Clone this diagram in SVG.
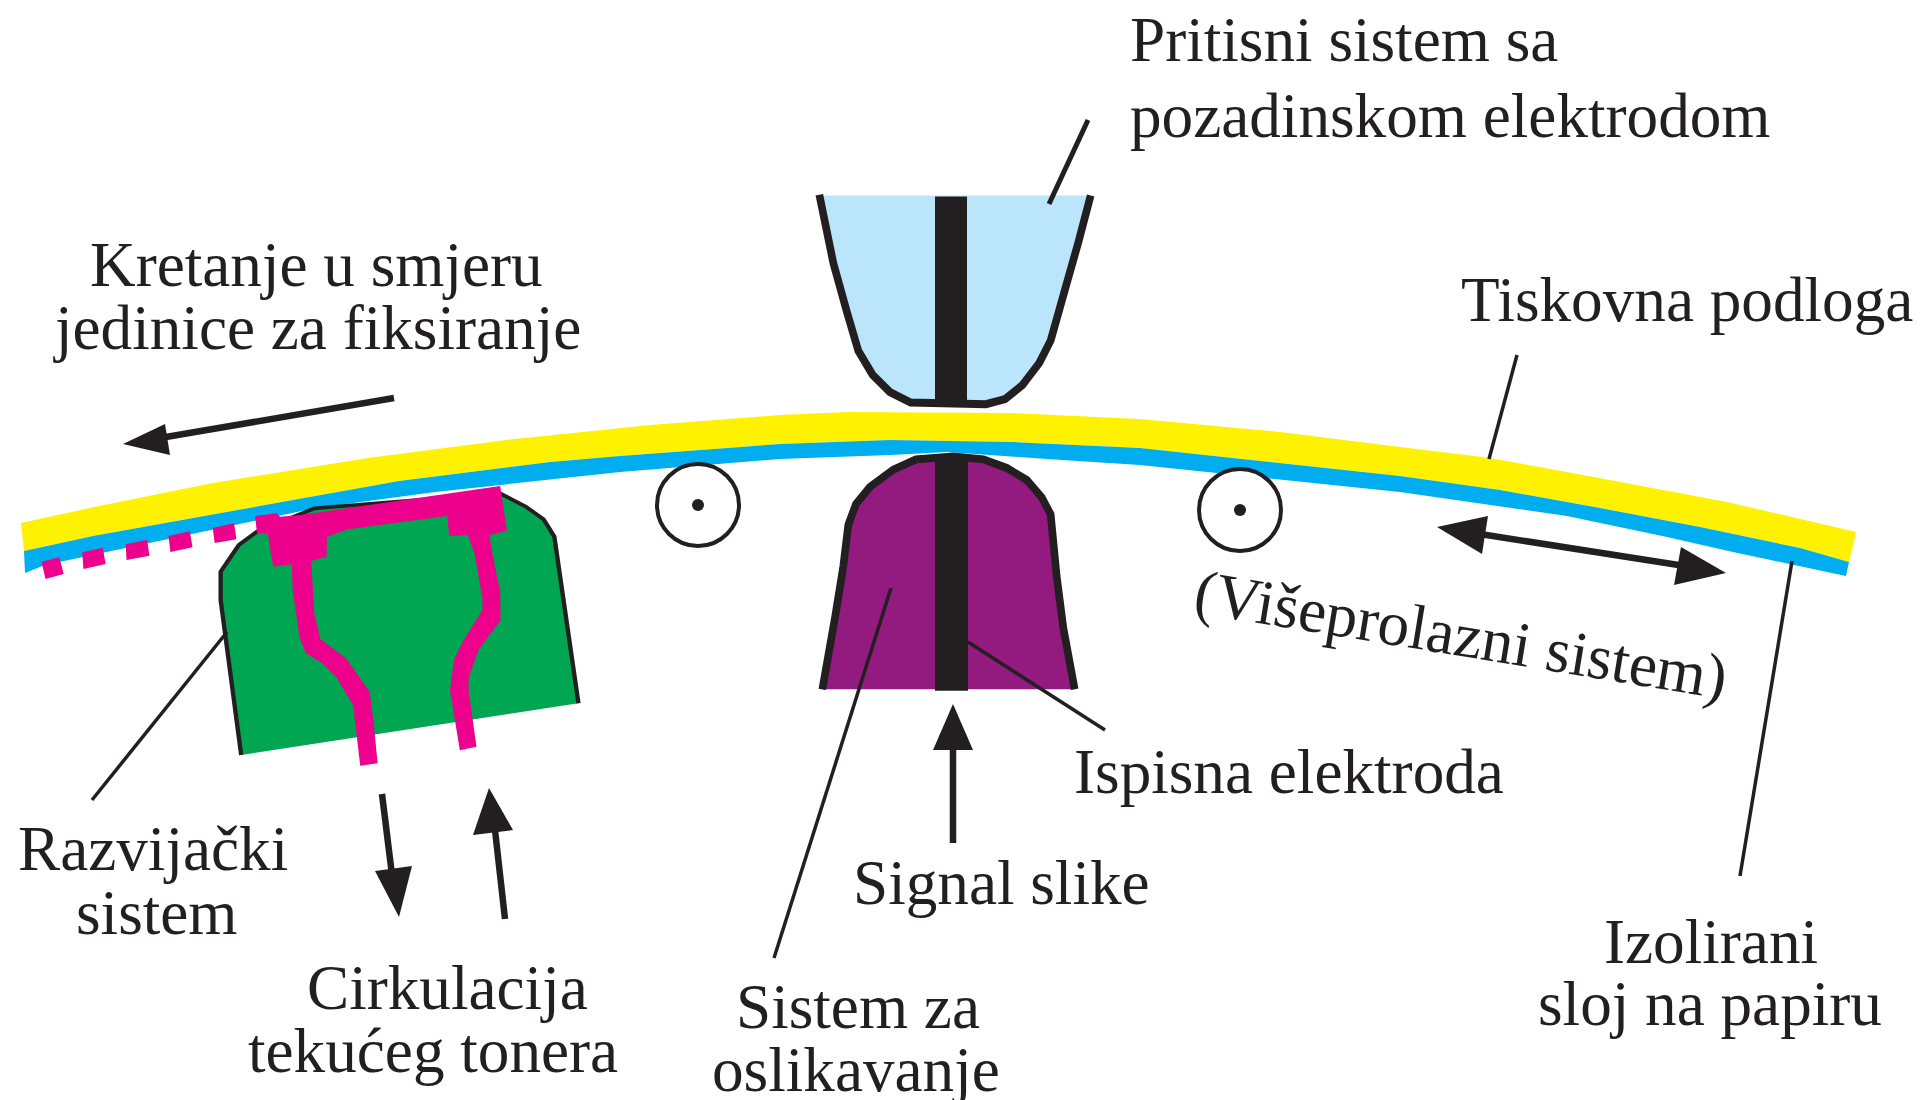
<svg xmlns="http://www.w3.org/2000/svg" width="1921" height="1100" viewBox="0 0 1921 1100">
<style>
text{font-family:"Liberation Serif","Times New Roman",serif;font-size:63.2px;fill:#231f20}
.ln{fill:none;stroke:#231f20;stroke-width:3.5}
.ar{fill:none;stroke:#231f20;stroke-width:6.5}
.hd{fill:#231f20}
.k{fill:#231f20}
</style>
<rect width="1921" height="1100" fill="#fff"/>
<g id="tiskovna-podloga-traka">
<path fill="#fff200" d="M21,523L99,506L213,483L368,458L506,440L650,425L780,415L847,412L1013,413L1140,419L1280,432L1400,447L1490,458L1583,475L1727,502L1856,532L1849,562L1800,548L1700,527L1600,508L1500,490L1400,476L1140,448L1013,442L890,440L780,444L620,456L550,462L399,481L93,536L24,551Z"/>
<path fill="#00aeef" d="M24,551L93,536L399,481L550,462L620,456L780,444L890,440L1013,442L1140,448L1400,476L1500,490L1600,508L1700,527L1800,548L1849,562L1846,576L1733,552L1667,537L1567,516L1400,492L1140,465L1047,459L947,452L890,455L780,459L620,472L435,492L316,508L45,565L25,573Z"/>
</g>
<g id="razvijacki-sistem" transform="translate(0,440) scale(.3954,.3333)">
<path fill="#00a651" d="M610,945L558,480L558,395L604,315L650,275L795,205L1265,160L1330,200L1375,238L1402,290L1463,790Z"/>
<path fill="none" stroke="#231f20" stroke-width="11" d="M610,945L558,480L558,395L604,315L650,275L795,205L1265,160L1330,200L1375,238L1402,290L1463,790"/>
<path fill="#ec008c" d="M645,228L700,220L708,230L760,225L1265,138L1282,272L1238,285L1245,340L1265,455L1266,540L1210,630L1185,715L1185,750L1205,920L1163,931L1138,750L1148,660L1170,605L1220,510L1220,475L1200,340L1183,285L1136,288L1131,228L880,268L827,290L826,350L787,363L795,520L810,597L875,655L935,755L945,850L955,970L911,977L893,795L850,710L815,670L773,638L757,590L740,450L738,373L691,380L677,280L650,280Z"/>
<g fill="#ec008c">
<path d="M105,365L150,352L161,402L115,417Z"/>
<path d="M208,337L260,323L267,372L211,387Z"/>
<path d="M318,313L372,299L378,347L320,360Z"/>
<path d="M426,288L480,274L487,322L431,336Z"/>
<path d="M538,264L592,250L598,298L543,309Z"/>
</g>
</g>
<g id="pritisni-sistem" transform="translate(780,170) scale(.33333,.3444)">
<path fill="#bbe5fa" stroke="none" d="M120,74L930,74L895,210L860,330L812,495L778,560L727,625L675,665L618,680L392,675L330,645L278,595L235,525L200,410L160,270Z"/>
<path fill="none" stroke="#231f20" stroke-width="23" d="M118,72L160,270L200,410L235,525L278,595L330,645L392,675L618,680L675,665L727,625L778,560L812,495L860,330L895,210L932,74"/>
<rect class="k" x="465" y="77" width="96" height="605"/>
</g>
<g id="sistem-za-oslikavanje" transform="translate(780,170) scale(.33333,.3444)">
<path fill="#931b80" d="M127,1508L165,1300L190,1150L205,1030L228,970L270,920L340,870L408,840L520,832L610,840L680,865L740,900L785,950L812,1000L830,1180L850,1330L884,1508Z"/>
<path fill="none" stroke="#231f20" stroke-width="23" d="M127,1508L165,1300L190,1150L205,1030L228,970L270,920L340,870L408,840L520,832L610,840L680,865L740,900L785,950L812,1000L830,1180L850,1330L884,1508"/>
<rect class="k" x="465" y="825" width="99" height="687"/>
</g>
<g id="valjak-1"><circle cx="698" cy="505" r="41" fill="#fff" stroke="#231f20" stroke-width="4"/><circle class="k" cx="698" cy="505" r="6"/></g>
<g id="valjak-2"><circle cx="1240" cy="510" r="41" fill="#fff" stroke="#231f20" stroke-width="4"/><circle class="k" cx="1240" cy="510" r="6"/></g>
<g id="connectors">
<path class="ln" style="stroke-width:5" d="M1088,120L1049,204"/>
<path class="ln" d="M1517,355L1489,459"/>
<path class="ln" d="M1792,561L1740,876"/>
<path class="ln" d="M227,632L92,800"/>
<path class="ln" d="M891,588L774,958"/>
<path class="ln" d="M968,642L1105,730"/>
<path class="ar" d="M394,398L160,438"/>
<path class="hd" d="M123,444L165,424L170,455Z"/>
<path class="ar" d="M953,843V745"/>
<path class="hd" d="M953,704L973,750H933Z"/>
<path class="ar" d="M382,794L392,875"/>
<path class="hd" d="M399,917L375,871L412,866Z"/>
<path class="ar" d="M505,919L495,830"/>
<path class="hd" d="M489,788L473,835L513,830Z"/>
<path class="ar" d="M1480,534L1685,566"/>
<path class="hd" d="M1437,527L1488,516L1482,554Z"/>
<path class="hd" d="M1726,573L1674,585L1681,547Z"/>
</g>
<g id="labels">
<text x="1130" y="61">Pritisni sistem sa</text>
<text x="1130" y="137">pozadinskom elektrodom</text>
<text x="90" y="286">Kretanje u smjeru</text>
<text x="55" y="349">jedinice za fiksiranje</text>
<text x="1461" y="321">Tiskovna podloga</text>
<text transform="translate(1192,612) rotate(9.3)">(Višeprolazni sistem)</text>
<text x="1074" y="793">Ispisna elektroda</text>
<text x="853" y="904">Signal slike</text>
<text x="18" y="870">Razvijački</text>
<text x="76" y="934">sistem</text>
<text x="307" y="1009">Cirkulacija</text>
<text x="248" y="1072">tekućeg tonera</text>
<text x="736" y="1028">Sistem za</text>
<text x="712" y="1091">oslikavanje</text>
<text x="1604" y="963">Izolirani</text>
<text x="1538" y="1025">sloj na papiru</text>
</g>
</svg>
